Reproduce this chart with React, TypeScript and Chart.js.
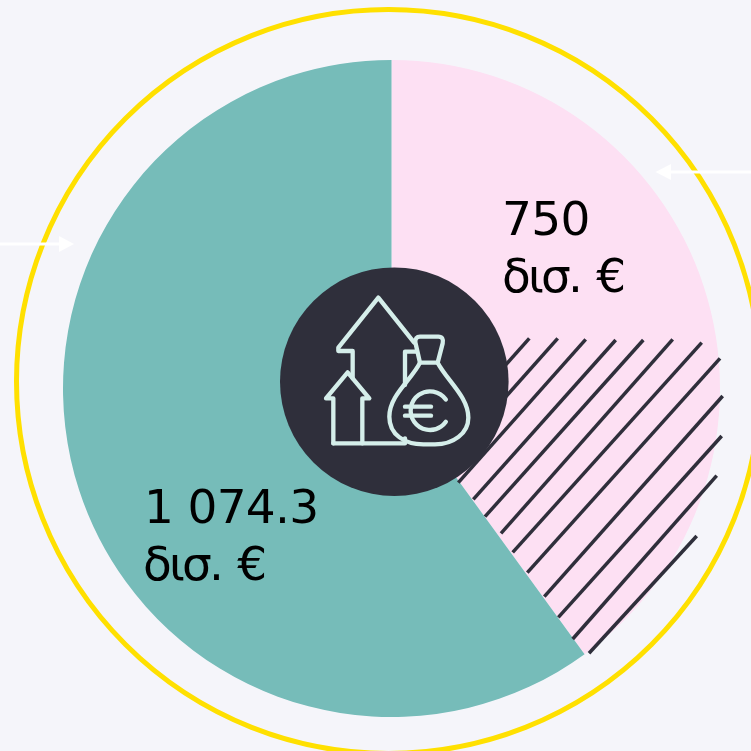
import React, { useEffect, useRef } from "react";
import { Chart, registerables } from "chart.js";

Chart.register(...registerables);

const categories = ["Ροζ", "Πράσινο"];
// Share of the circle each slice occupies
const sliceShares = [40, 60];
const sliceColors = ["#FDE0F3", "#76BCB9"];
const sliceLabels = [
  ["750", "δισ. €"],
  ["1 074.3", "δισ. €"],
];

const BG = "#F5F5FA";
const DARK = "#2F2F3B";
const ICON = "#D5EEEA";
const YELLOW = "#FFE000";
const FONT = '47px "DejaVu Sans"';

const hatch: number[][] = [
  [529.3, 338.3, 470, 405],
  [557.7, 338.3, 470, 437],
  [585.7, 339.3, 458.3, 482.7],
  [615.7, 340, 473.3, 499.3],
  [643.3, 340, 485, 516.7],
  [672.7, 339.3, 501, 533.3],
  [701.7, 342.7, 512.7, 552.3],
  [720, 358.3, 527.3, 572.7],
  [722.7, 396, 544.3, 596.7],
  [721.7, 436, 558.3, 617.3],
  [716.7, 475.7, 572.7, 639],
  [696.7, 536, 589, 653.3],
];

function iconPath(ctx: CanvasRenderingContext2D) {
  // Sketch units: 3 per pixel, origin at (280, 265)
  const p = (pts: number[][], close = false) => {
    ctx.beginPath();
    pts.forEach(([x, y], i) => (i ? ctx.lineTo(x, y) : ctx.moveTo(x, y)));
    if (close) ctx.closePath();
    ctx.stroke();
  };
  // Large house
  p([[218, 340], [218, 258], [175, 258], [175, 248], [295, 98], [402, 232]]);
  p([[375, 360], [375, 260], [408, 260]]);
  // Small house
  p([[160, 535], [160, 400], [138, 400], [203, 322], [268, 400], [247, 400], [247, 535]]);
  p([[160, 535], [375, 535], [375, 520]]);
  // Bag neck
  ctx.beginPath();
  ctx.moveTo(420, 293);
  ctx.lineTo(406, 232);
  ctx.quadraticCurveTo(405, 215, 420, 215);
  ctx.lineTo(475, 215);
  ctx.quadraticCurveTo(492, 215, 488, 235);
  ctx.lineTo(473, 293);
  ctx.closePath();
  ctx.stroke();
  // Bag body
  ctx.beginPath();
  ctx.moveTo(420, 293);
  ctx.bezierCurveTo(395, 345, 328, 390, 328, 455);
  ctx.bezierCurveTo(328, 510, 375, 538, 430, 538);
  ctx.lineTo(465, 538);
  ctx.bezierCurveTo(520, 538, 565, 505, 565, 458);
  ctx.bezierCurveTo(565, 395, 500, 345, 473, 293);
  ctx.stroke();
  // Euro sign
  ctx.beginPath();
  ctx.arc(450, 437, 58, (-35 * Math.PI) / 180, (35 * Math.PI) / 180, true);
  ctx.stroke();
  p([[375, 425], [453, 425]]);
  p([[375, 452], [453, 452]]);
}

const decorations = {
  id: "decorations",
  beforeDatasetsDraw(chart: Chart) {
    const ctx = chart.ctx;
    ctx.save();
    // Outer ring
    ctx.strokeStyle = YELLOW;
    ctx.lineWidth = 5;
    ctx.beginPath();
    ctx.arc(388.5, 381.5, 372, 0, Math.PI * 2);
    ctx.stroke();
    // Arrows
    ctx.strokeStyle = "#FFFFFF";
    ctx.fillStyle = "#FFFFFF";
    ctx.lineWidth = 3;
    ctx.beginPath();
    ctx.moveTo(751, 172);
    ctx.lineTo(670, 172);
    ctx.moveTo(0, 244);
    ctx.lineTo(60, 244);
    ctx.stroke();
    ctx.beginPath();
    ctx.moveTo(655.5, 172);
    ctx.lineTo(671, 164);
    ctx.lineTo(671, 180);
    ctx.closePath();
    ctx.moveTo(74, 244);
    ctx.lineTo(59, 236);
    ctx.lineTo(59, 252);
    ctx.closePath();
    ctx.fill();
    ctx.restore();
  },
  afterDatasetsDraw(chart: Chart) {
    const ctx = chart.ctx;
    ctx.save();
    // Hatching
    ctx.strokeStyle = DARK;
    ctx.lineWidth = 3.5;
    hatch.forEach(([x1, y1, x2, y2]) => {
      ctx.beginPath();
      ctx.moveTo(x1, y1);
      ctx.lineTo(x2, y2);
      ctx.stroke();
    });
    // Centre disc
    ctx.fillStyle = DARK;
    ctx.beginPath();
    ctx.arc(394.3, 381.7, 114.3, 0, Math.PI * 2);
    ctx.fill();
    // Icon
    ctx.save();
    ctx.translate(280, 265);
    ctx.scale(1 / 3, 1 / 3);
    ctx.strokeStyle = ICON;
    ctx.lineWidth = 13;
    ctx.lineJoin = "round";
    ctx.lineCap = "round";
    iconPath(ctx);
    ctx.restore();
    // Labels
    ctx.fillStyle = "#000000";
    ctx.font = FONT;
    ctx.textAlign = "left";
    ctx.textBaseline = "alphabetic";
    const c = ctx as CanvasRenderingContext2D & { letterSpacing: string; wordSpacing: string };
    c.letterSpacing = "-0.7px";
    ctx.fillText(sliceLabels[0][0], 502, 234.5);
    ctx.fillText(sliceLabels[1][0], 144, 522.5);
    c.letterSpacing = "-2.8px";
    c.wordSpacing = "4px";
    ctx.fillText(sliceLabels[0][1], 502, 292);
    ctx.fillText(sliceLabels[1][1], 143, 580);
    ctx.restore();
  },
};

export default function App() {
  const ref = useRef<HTMLCanvasElement>(null);
  useEffect(() => {
    document.body.style.margin = "0";
    document.body.style.background = BG;
    document.body.style.overflow = "hidden";
    const chart = new Chart(ref.current!, {
      type: "pie",
      data: {
        labels: categories,
        datasets: [{ data: sliceShares, backgroundColor: sliceColors, borderWidth: 0 }],
      },
      options: {
        animation: false,
        responsive: false,
        layout: { padding: { left: 63, right: 31, top: 60, bottom: 34 } },
        plugins: { legend: { display: false }, tooltip: { enabled: false } },
      },
      plugins: [decorations],
    });
    return () => chart.destroy();
  }, []);
  return <canvas ref={ref} width={751} height={751} style={{ display: "block", background: BG }} />;
}
